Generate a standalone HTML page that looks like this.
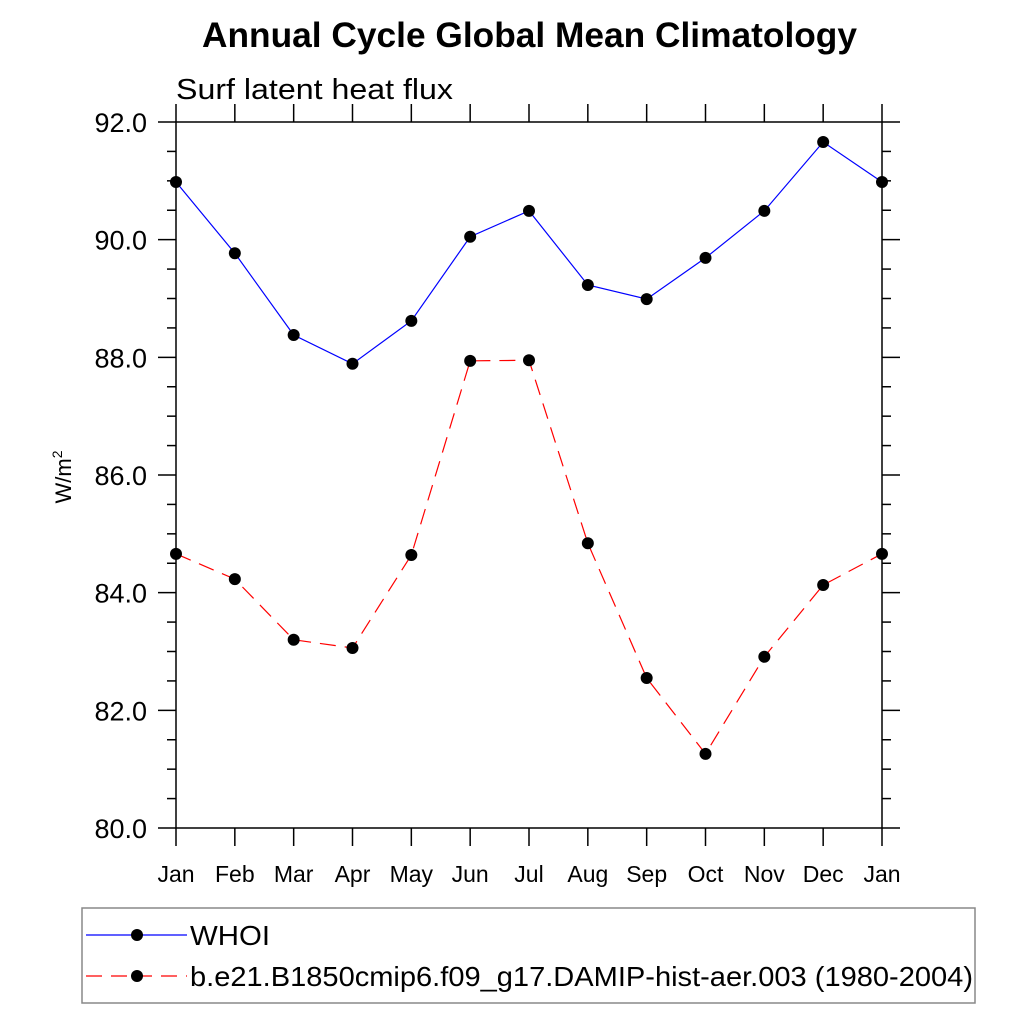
<!DOCTYPE html>
<html><head><meta charset="utf-8"><style>
body{margin:0;background:#fff;}
svg text{font-family:"Liberation Sans",sans-serif;}
</style></head><body>
<svg id="chart" width="1024" height="1024" viewBox="0 0 1024 1024">
<text x="202" y="47" font-size="35" font-weight="bold" textLength="655" lengthAdjust="spacingAndGlyphs">Annual Cycle Global Mean Climatology</text>
<text x="176" y="99" font-size="29" textLength="277" lengthAdjust="spacingAndGlyphs">Surf latent heat flux</text>
<text transform="translate(71,477) rotate(-90)" font-size="22" text-anchor="middle">W/m<tspan dy="-9" font-size="14">2</tspan></text>
<g id="axes"></g>
<g id="series"></g>
<g>
<rect x="82" y="908" width="893" height="95" fill="none" stroke="#888" stroke-width="1.5"/>
<g>
<line x1="86" y1="935" x2="187" y2="935" stroke="#0000ff" stroke-width="1.2"/>
<circle cx="137" cy="935" r="6" fill="#000"/>
<text x="190" y="945" font-size="28" textLength="80" lengthAdjust="spacingAndGlyphs">WHOI</text></g>
<g>
<line x1="86" y1="976" x2="187" y2="976" stroke="#ff0000" stroke-width="1.2" stroke-dasharray="16,9"/>
<circle cx="137" cy="976" r="6" fill="#000"/>
<text x="190" y="986" font-size="28" textLength="783" lengthAdjust="spacingAndGlyphs">b.e21.B1850cmip6.f09_g17.DAMIP-hist-aer.003 (1980-2004)</text></g>
</g>
</svg>
<script>
const months=["Jan","Feb","Mar","Apr","May","Jun","Jul","Aug","Sep","Oct","Nov","Dec","Jan"];
const whoi=[90.98,89.77,88.38,87.89,88.62,90.05,90.49,89.23,88.99,89.69,90.49,91.66,90.98];
const model=[84.66,84.23,83.20,83.06,84.64,87.94,87.95,84.84,82.55,81.26,82.91,84.13,84.66];
const yTicks=["80.0","82.0","84.0","86.0","88.0","90.0","92.0"];
const NS="http://www.w3.org/2000/svg";
const X0=176,X1=882,Y0=828,Y1=122,YMIN=80,YMAX=92;
const xs=i=>X0+(X1-X0)*i/(months.length-1);
const ys=v=>Y0-(v-YMIN)/(YMAX-YMIN)*(Y0-Y1);
function mk(t,a,p){const e=document.createElementNS(NS,t);for(const k in a)e.setAttribute(k,a[k]);p.appendChild(e);return e;}
const ax=document.getElementById('axes');
const fr=mk('rect',{x:X0,y:Y1,width:X1-X0,height:Y0-Y1,fill:'none',stroke:'#000','stroke-width':1.5},ax);


months.forEach((m,i)=>{const x=xs(i);
mk('line',{x1:x,y1:Y0,x2:x,y2:Y0+18,stroke:'#000','stroke-width':1.5},ax);
mk('line',{x1:x,y1:Y1,x2:x,y2:Y1-18,stroke:'#000','stroke-width':1.5},ax);
const t=mk('text',{x:x,y:882,'font-size':23,'text-anchor':'middle'},ax);t.textContent=m;

});
for(let v=YMIN;v<=YMAX+1e-6;v+=0.5){const y=ys(v);const maj=Math.abs(v%2)<1e-6;const L=maj?18:9;
mk('line',{x1:X0-L,y1:y,x2:X0,y2:y,stroke:'#000','stroke-width':1.5},ax);
mk('line',{x1:X1,y1:y,x2:X1+L,y2:y,stroke:'#000','stroke-width':1.5},ax);}
yTicks.forEach(s=>{const t=mk('text',{x:147,y:ys(parseFloat(s))+10,'font-size':27,'text-anchor':'end'},ax);t.textContent=s;

});
const sg=document.getElementById('series');
function series(d,col,dash,name){
const p=mk('polyline',{points:d.map((v,i)=>xs(i)+','+ys(v)).join(' '),fill:'none',stroke:col,'stroke-width':1.2,'stroke-dasharray':dash},sg);


d.forEach((v,i)=>{const c=mk('circle',{cx:xs(i),cy:ys(v),r:6,fill:'#000'},sg);

});}
series(whoi,'#0000ff','none','whoi');
series(model,'#ff0000','16,9','model');
</script>
</body></html>
